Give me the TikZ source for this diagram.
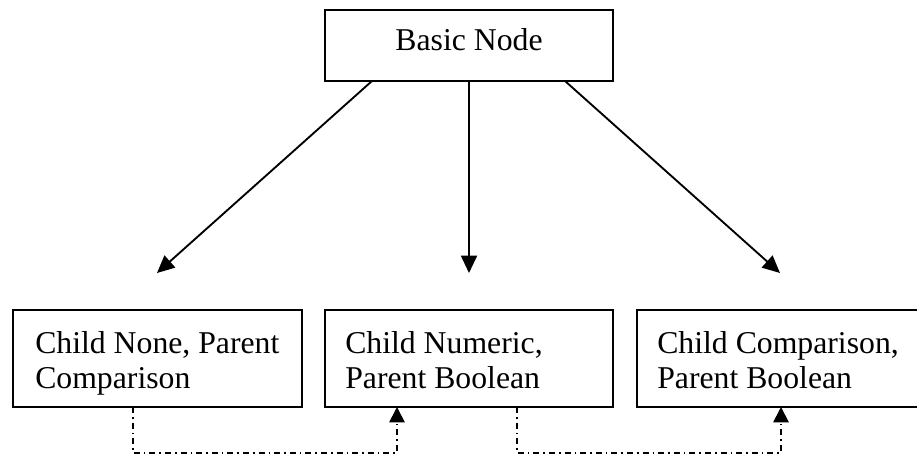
\documentclass[tikz,border=0pt]{standalone}
\usepackage{fontspec}
\setmainfont{Liberation Serif}
\usetikzlibrary{arrows.meta,calc}
\begin{document}
\begin{tikzpicture}[x=0.75pt,y=-0.75pt,
  box/.style={draw, line width=1.5pt, inner sep=0pt, outer sep=0pt, anchor=north west},
  txt/.style={inner sep=0pt, align=left, font=\fontsize{23.8pt}{26.25pt}\selectfont, anchor=base west},
  arr/.style={line width=1.4pt, -{Triangle[length=13pt,width=12pt]}},
  darr/.style={line width=1.4pt, dash pattern=on 4.5pt off 3pt on 1.2pt off 3pt, -{Triangle[length=11.5pt,width=11.5pt]}}]
\useasboundingbox (0,0) rectangle (917,456);
\clip (0,0) rectangle (917,456);
% top node
\node[box, minimum width=216pt, minimum height=53.25pt, font=\fontsize{23.8pt}{26.25pt}\selectfont,
      text height=16.5pt, text depth=8.25pt] (bn) at (325,10) {Basic Node};
% child boxes
\node[box, minimum width=216.75pt, minimum height=72.75pt] (c1) at (13,310) {};
\node[box, minimum width=216pt, minimum height=72.75pt] (c2) at (325,310) {};
\node[box, minimum width=216.75pt, minimum height=72.75pt] (c3) at (637,310) {};
\node[txt] (t1) at ([xshift=16.5pt,yshift=-58.5pt]c1.north west) {Child None, Parent\\Comparison};
\node[txt] (t2) at ([xshift=15pt,yshift=-58.5pt]c2.north west) {Child Numeric,\\Parent Boolean};
\node[txt] (t3) at ([xshift=15pt,yshift=-58.5pt]c3.north west) {Child Comparison,\\Parent Boolean};
% arrow ends
\path (bn.south) ++(-312,192) coordinate (a1);
\path (bn.south) ++(0,192) coordinate (a2);
\path (bn.south) ++(311,192) coordinate (a3);
\draw[arr] ([xshift=-72.75pt]bn.south) -- (a1);
\draw[arr] (bn.south) -- (a2);
\draw[arr] ([xshift=72pt]bn.south) -- (a3);
% dash-dot connectors
\draw[darr] ([xshift=90pt]c1.south west) -- ++(0,46) -| ([xshift=54pt]c2.south west);
\draw[darr] ([xshift=144pt]c2.south west) -- ++(0,46) -| ([xshift=108pt]c3.south west);
\end{tikzpicture}
\end{document}
